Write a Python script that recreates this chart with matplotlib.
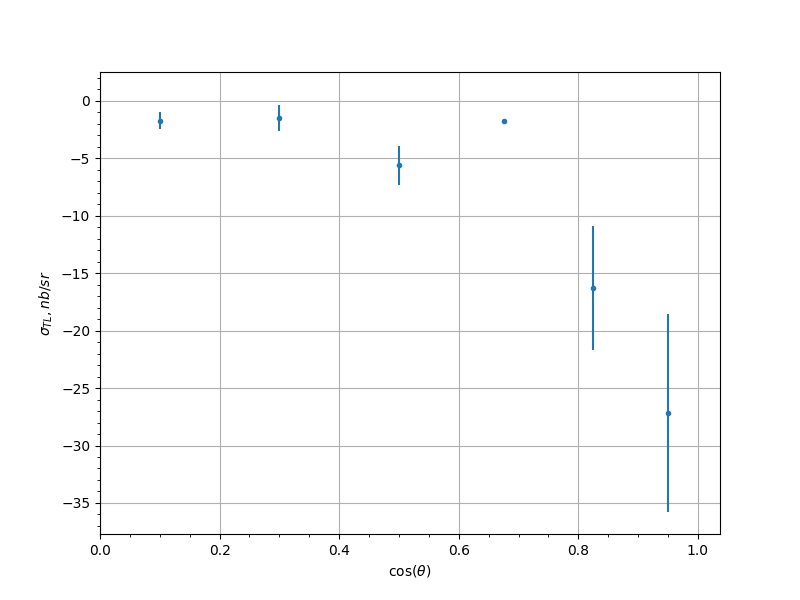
import matplotlib
matplotlib.use('Agg')
import matplotlib.pyplot as plt

# cos(theta) bins and measured sigma_TL with uncertainties
cos_theta = [0.1, 0.3, 0.5, 0.675, 0.825, 0.95]
sigma_tl = [-1.75, -1.5, -5.6, -1.75, -16.3, -27.2]
sigma_err = [0.75, 1.1, 1.7, 0.15, 5.4, 8.6]

fig, ax = plt.subplots(figsize=(8, 6), dpi=100)
ax.errorbar(cos_theta, sigma_tl, yerr=sigma_err, fmt='.')
ax.set_xlim(0, 1.037)
ax.set_ylim(-37.7, 2.5)
ax.minorticks_on()
ax.grid(which='major')
ax.set_xlabel(r'$\cos(\theta)$')
ax.set_ylabel(r'$\sigma_{TL}, nb/sr$')
fig.savefig('out.png')
